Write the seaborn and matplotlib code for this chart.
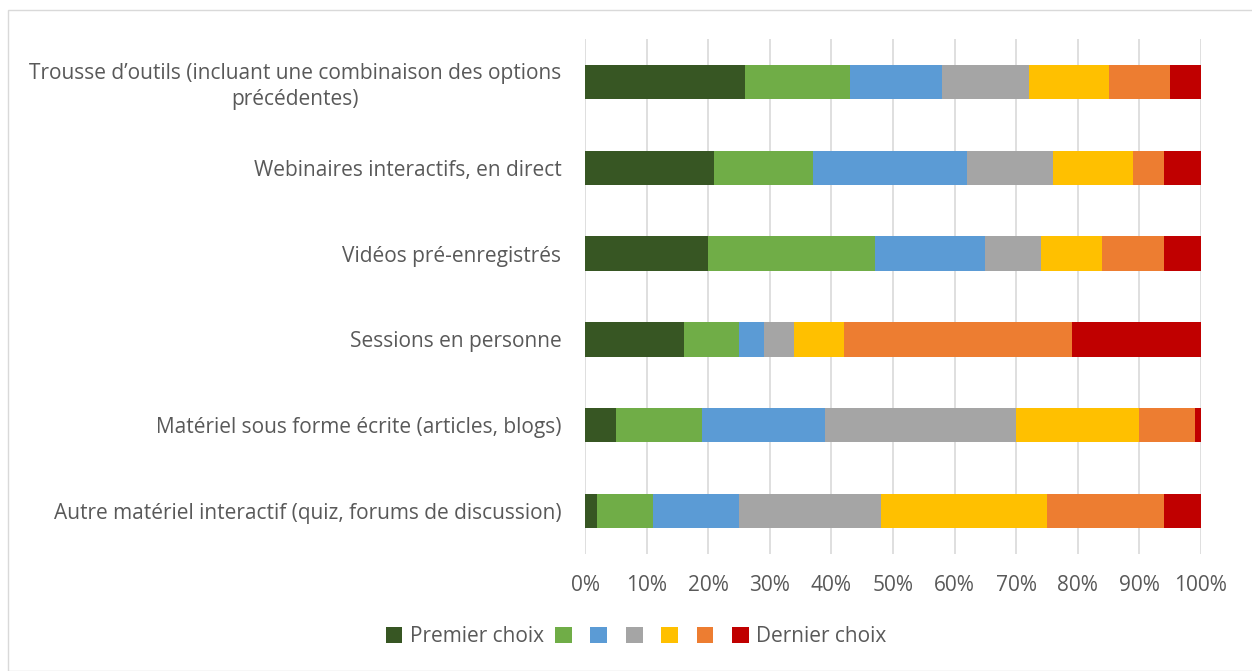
import pandas as pd
import numpy as np
import seaborn as sns
import matplotlib.pyplot as plt
from matplotlib.patches import Patch, Rectangle

# data (percent of answers)
categories = [
    "Trousse d\u2019outils (incluant une combinaison des options\nprécédentes)",
    "Webinaires interactifs, en direct",
    "Vidéos pré-enregistrés",
    "Sessions en personne",
    "Matériel sous forme écrite (articles, blogs)",
    "Autre matériel interactif (quiz, forums de discussion)",
]
rank_names = ["Premier choix", "2", "3", "4", "5", "6", "Dernier choix"]
premier = [26, 21, 20, 16, 5, 2]
choix2 = [17, 16, 27, 9, 14, 9]
choix3 = [15, 25, 18, 4, 20, 14]
choix4 = [14, 14, 9, 5, 31, 23]
choix5 = [13, 13, 10, 8, 20, 27]
choix6 = [10, 5, 10, 37, 9, 19]
dernier = [5, 6, 6, 21, 1, 6]
legend_labels = ["Premier choix", "", "", "", "", "", "Dernier choix"]

colors = ["#375623", "#70AD47", "#5B9BD5", "#A5A5A5", "#FFC000", "#ED7D31", "#C00000"]

df = pd.DataFrame({"cat": categories, "Premier choix": premier, "2": choix2, "3": choix3,
                   "4": choix4, "5": choix5, "6": choix6, "Dernier choix": dernier})
cum = df[rank_names].cumsum(axis=1)

plt.rcParams["font.family"] = ["Open Sans", "DejaVu Sans"]
fig = plt.figure(figsize=(12.52, 6.71), dpi=100)
ax = fig.add_axes([585 / 1252, 1 - 554 / 671, 616 / 1252, 515 / 671])

# stacked bars: draw cumulative totals from the last rank back to the first
for i in range(len(rank_names) - 1, -1, -1):
    sns.barplot(x=cum[rank_names[i]], y=df["cat"], orient="h", color=colors[i],
                width=0.4, saturation=1, ax=ax, zorder=2, edgecolor="none")

ax.set_xlim(0, 100)
ax.set_xticks(np.arange(0, 101, 10))
ax.set_xticklabels([f"{v}%" for v in range(0, 101, 10)])
ax.grid(axis="x", color="#D9D9D9", linewidth=1.2, zorder=0)
ax.set_axisbelow(True)
for s in ax.spines.values():
    s.set_visible(False)
ax.set_xlabel("")
ax.set_ylabel("")
ax.tick_params(axis="both", length=0, labelsize=15, colors="#595959")
ax.tick_params(axis="x", pad=15)
ax.tick_params(axis="y", pad=17)
for t in ax.get_yticklabels():
    t.set_multialignment("center")
    t.set_linespacing(1.3)

handles = [Patch(facecolor=c) for c in colors]
fig.legend(handles, legend_labels, loc="center", bbox_to_anchor=(636 / 1252, 1 - 637 / 671),
           ncol=7, frameon=False, fontsize=15, labelcolor="#595959",
           handlelength=0.8, handleheight=0.8, handletextpad=0.35, columnspacing=0.55)

fig.patches.append(Rectangle((8 / 1252, 0), 1.0, 1 - 10 / 671, transform=fig.transFigure,
                             fill=False, edgecolor="#D9D9D9", linewidth=1))

fig.savefig("out.png", dpi=100)
